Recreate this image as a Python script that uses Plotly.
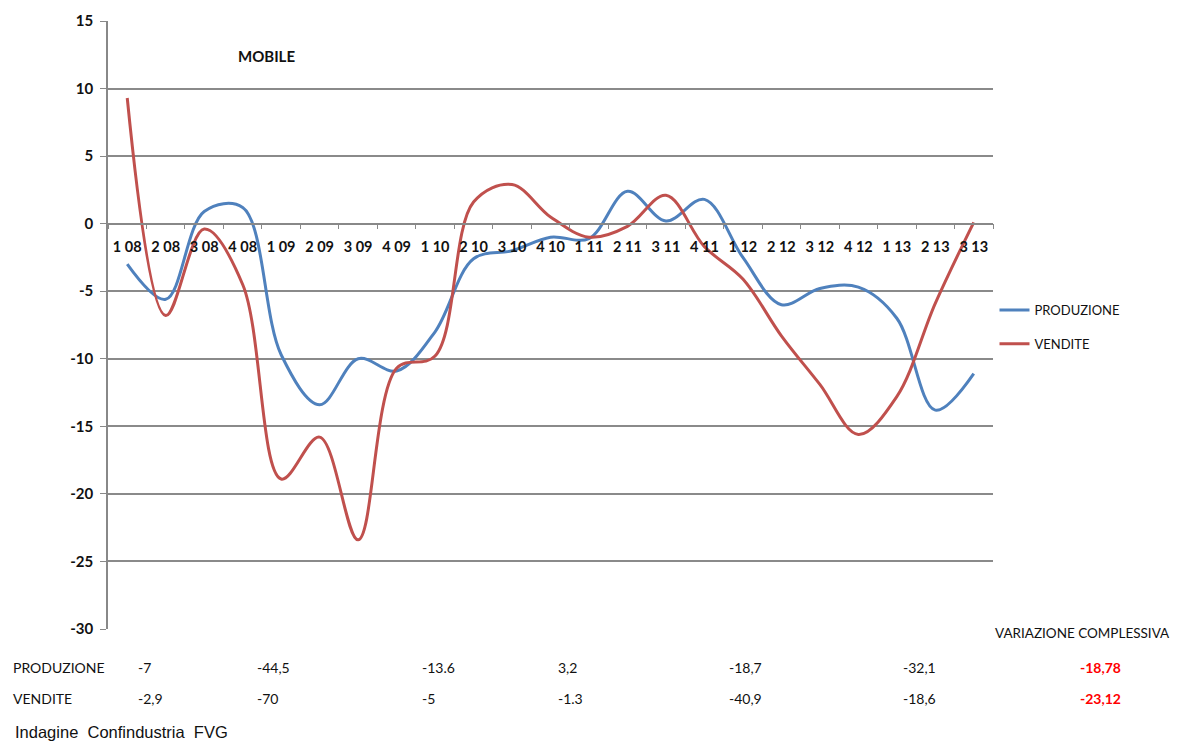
import plotly.graph_objects as go

categories = ["1 08", "2 08", "3 08", "4 08", "1 09", "2 09", "3 09", "4 09",
              "1 10", "2 10", "3 10", "4 10", "1 11", "2 11", "3 11", "4 11",
              "1 12", "2 12", "3 12", "4 12", "1 13", "2 13", "3 13"]

produzione = [-3.0, -5.6, 0.9, 1.2, -9.7, -13.4, -10.0, -10.9,
              -8.0, -2.6, -2.0, -1.0, -1.1, 2.4, 0.2, 1.8,
              -2.5, -6.0, -4.8, -4.7, -7.0, -13.8, -11.1]

vendite = [9.3, -6.8, -0.4, -4.5, -18.9, -15.8, -23.4, -10.7,
           -9.8, 1.6, 2.9, 0.5, -1.0, -0.2, 2.1, -1.7,
           -4.1, -8.3, -11.9, -15.6, -12.8, -5.9, 0.1]

y_ticks = [15, 10, 5, 0, -5, -10, -15, -20, -25, -30]
y_ticklabels = ["15", "10", "5", "0", "-5", "-10", "-15", "-20", "-25", "-30"]

table_rows = ["PRODUZIONE", "VENDITE"]
prod_variazioni = ["-7", "-44,5", "-13.6", "3,2", "-18,7", "-32,1"]
vend_variazioni = ["-2,9", "-70", "-5", "-1.3", "-40,9", "-18,6"]
totale = ["-18,78", "-23,12"]

BLUE = "#4F81BD"
RED = "#C0504D"
FONT = "Lato"

fig = go.Figure()
fig.add_trace(go.Scatter(x=categories, y=produzione, name="PRODUZIONE", mode="lines",
                         line=dict(color=BLUE, width=3, shape="spline", smoothing=1.0),
                         legendgroup="p"))
fig.add_trace(go.Scatter(x=categories, y=vendite, name="VENDITE", mode="lines",
                         line=dict(color=RED, width=3, shape="spline", smoothing=1.0),
                         legendgroup="v"))

# page has an 8px body margin; work in page pixel coordinates
OX, OY = 8, 8
W, H = 1178, 736
PL, PR, PT, PB = 108, 993.5, 21, 629  # plot area in page pixels
L, T = PL - OX, PT - OY
R = W - (PR - OX)
B = H - (PB - OY)
pw = W - L - R
ph = H - T - B

def px_x(x):
    return (x - OX - L) / pw

def px_y(y):
    return (H - B - (y - OY)) / ph

def label(text, x, y, size=14, color="#111", family=FONT, xanchor="left"):
    return dict(text=text, x=px_x(x), y=px_y(y), xref="paper", yref="paper",
                xanchor=xanchor, yanchor="middle", showarrow=False,
                font=dict(family=family, size=size, color=color))

ann = []
ann.append(label("<b>MOBILE</b>", 267, 56, size=15, xanchor="center"))
ann.append(label("VARIAZIONE COMPLESSIVA", 993, 633, size=13.5))
row_y = [667, 698]
for name, yy in zip(table_rows, row_y):
    ann.append(label(name, 11, yy))
col_x = [136, 255, 420, 556, 727, 901]
for vals, yy in zip([prod_variazioni, vend_variazioni], row_y):
    for v, xx in zip(vals, col_x):
        ann.append(label(v, xx, yy))
for v, yy in zip(totale, row_y):
    ann.append(label("<b>" + v + "</b>", 1079, yy, color="#FF0000"))
ann.append(label("Indagine&nbsp; Confindustria&nbsp; FVG", 13, 732, size=16.5,
                 family="Liberation Sans"))

fig.update_layout(
    width=W, height=H,
    margin=dict(l=L, r=R, t=T, b=B, autoexpand=False),
    paper_bgcolor="white", plot_bgcolor="white",
    font=dict(family=FONT, size=14, color="#111"),
    xaxis=dict(type="category", range=[-0.5, 22.5], anchor="free", position=30 / 45,
               showgrid=False, showline=True, linecolor="#888", linewidth=1.5,
               ticks="outside", tickson="boundaries", ticklen=5, tickcolor="#888",
               ticklabelstandoff=10,
               tickfont=dict(family=FONT, size=14.5, color="#111", weight="bold"),
               automargin=False, fixedrange=True),
    yaxis=dict(range=[-30, 15], tickvals=y_ticks, ticktext=y_ticklabels,
               showgrid=True, gridcolor="#8a8a8a", gridwidth=1.5,
               showline=True, linecolor="#888", linewidth=1.5, ticks="outside", ticklen=6,
               tickcolor="#888", zeroline=False, automargin=False,
               tickfont=dict(family=FONT, size=15, color="#111", weight="bold"),
               ticklabelstandoff=4),
    legend=dict(x=px_x(995), y=px_y(295), xanchor="left", yanchor="top",
                tracegroupgap=14, font=dict(family=FONT, size=13, color="#111"),
                bgcolor="rgba(0,0,0,0)", itemwidth=30),
    showlegend=True,
    annotations=ann,
)

fig.write_html("out.html")
